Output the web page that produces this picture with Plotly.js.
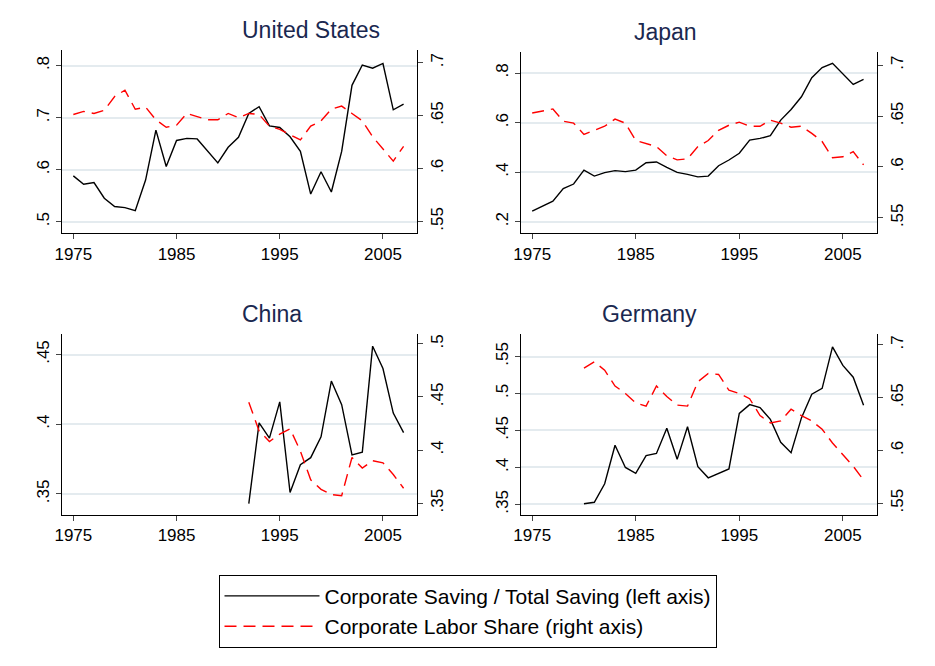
<!DOCTYPE html>
<html>
<head>
<meta charset="utf-8">
<script src="https://cdn.plot.ly/plotly-3.0.1.min.js"></script>
<style>body{margin:0;background:#fff}#chart{width:935px;height:666px}</style>
</head>
<body>
<div id="chart"></div>
<script>
// ── Data ─────────────────────────────────────
const yearsFull = [1975,1976,1977,1978,1979,1980,1981,1982,1983,1984,1985,1986,1987,1988,1989,1990,1991,1992,1993,1994,1995,1996,1997,1998,1999,2000,2001,2002,2003,2004,2005,2006,2007];
const yearsGermany = yearsFull.slice(5);
const yearsChina = yearsFull.slice(17);

const usSaving = [0.588,0.572,0.575,0.545,0.529,0.527,0.521,0.580,0.676,0.606,0.656,0.660,0.659,0.636,0.613,0.643,0.662,0.708,0.721,0.684,0.681,0.663,0.635,0.553,0.596,0.557,0.635,0.762,0.801,0.795,0.804,0.715,0.726];
const usLabor = [0.651,0.654,0.652,0.655,0.668,0.674,0.656,0.658,0.646,0.639,0.641,0.652,0.649,0.646,0.646,0.652,0.648,0.652,0.651,0.640,0.637,0.632,0.627,0.640,0.645,0.656,0.659,0.652,0.645,0.630,0.618,0.607,0.621];

const jpSaving = [0.243,0.264,0.283,0.334,0.352,0.408,0.384,0.398,0.406,0.402,0.408,0.438,0.441,0.419,0.399,0.391,0.381,0.384,0.426,0.449,0.476,0.529,0.536,0.547,0.610,0.653,0.704,0.781,0.822,0.839,0.796,0.754,0.774];
const jpLabor = [0.653,0.655,0.657,0.645,0.643,0.632,0.636,0.640,0.647,0.643,0.626,0.623,0.620,0.611,0.607,0.608,0.620,0.626,0.636,0.641,0.644,0.640,0.640,0.646,0.643,0.639,0.640,0.633,0.625,0.609,0.610,0.615,0.602];

const cnSaving = [0.343,0.401,0.390,0.416,0.351,0.371,0.376,0.391,0.431,0.414,0.378,0.380,0.456,0.440,0.408,0.394];
const cnLabor = [0.445,0.418,0.408,0.415,0.420,0.399,0.372,0.363,0.358,0.357,0.393,0.383,0.390,0.388,0.377,0.364];

const deSaving = [0.351,0.353,0.378,0.430,0.400,0.392,0.416,0.419,0.453,0.411,0.455,0.401,0.386,0.392,0.398,0.473,0.485,0.481,0.465,0.434,0.420,0.467,0.499,0.507,0.563,0.538,0.522,0.484];
const deLabor = [0.678,0.684,0.676,0.661,0.654,0.645,0.642,0.661,0.651,0.643,0.642,0.665,0.673,0.672,0.657,0.654,0.649,0.633,0.626,0.628,0.639,0.633,0.628,0.620,0.607,0.596,0.585,0.572];

const xTicks = [1975, 1985, 1995, 2005];
const savingName = "Corporate Saving / Total Saving (left axis)";
const laborName = "Corporate Labor Share (right axis)";

// ── Panels ────────────────────────────────────
const panels = [
  { title: "United States", x: yearsFull, s: usSaving, l: usLabor,
    dx: [0.0663, 0.446], dy: [0.650, 0.925],
    lr: [0.478, 0.830], lt: [0.5, 0.6, 0.7, 0.8], ltt: [".5", ".6", ".7", ".8"],
    rr: [0.539, 0.712], rt: [0.55, 0.6, 0.65, 0.7], rtt: [".55", ".6", ".65", ".7"] },
  { title: "Japan", x: yearsFull, s: jpSaving, l: jpLabor,
    dx: [0.557, 0.938], dy: [0.650, 0.922],
    lr: [0.154, 0.885], lt: [0.2, 0.4, 0.6, 0.8], ltt: [".2", ".4", ".6", ".8"],
    rr: [0.535, 0.713], rt: [0.55, 0.6, 0.65, 0.7], rtt: [".55", ".6", ".65", ".7"] },
  { title: "China", x: yearsChina, s: cnSaving, l: cnLabor,
    dx: [0.0663, 0.446], dy: [0.227, 0.498],
    lr: [0.335, 0.4645], lt: [0.35, 0.4, 0.45], ltt: [".35", ".4", ".45"],
    rr: [0.339, 0.509], rt: [0.35, 0.4, 0.45, 0.5], rtt: [".35", ".4", ".45", ".5"] },
  { title: "Germany", x: yearsGermany, s: deSaving, l: deLabor,
    dx: [0.557, 0.938], dy: [0.227, 0.498],
    lr: [0.336, 0.580], lt: [0.35, 0.4, 0.45, 0.5, 0.55], ltt: [".35", ".4", ".45", ".5", ".55"],
    rr: [0.539, 0.710], rt: [0.55, 0.6, 0.65, 0.7], rtt: [".55", ".6", ".65", ".7"] },
];

const tickFont = { family: "Arial, Liberation Sans, sans-serif", size: 17, color: "#000" };
const traces = [];
const layout = {
  width: 935, height: 666,
  margin: { t: 0, r: 0, b: 0, l: 0 },
  paper_bgcolor: "#fff", plot_bgcolor: "#fff",
  showlegend: true,
  legend: {
    x: 0.5, xanchor: "center", y: 0.137, yanchor: "top",
    bordercolor: "#000", borderwidth: 1,
    font: { family: "Arial, Liberation Sans, sans-serif", size: 21, color: "#000" },
    tracegroupgap: 0, itemwidth: 95,
  },
  annotations: [],
};

panels.forEach((p, i) => {
  const n = i * 2 + 1;
  const xa = "x" + (i + 1), ya = "y" + n, yb = "y" + (n + 1);
  traces.push({
    x: p.x, y: p.s, xaxis: xa, yaxis: ya, mode: "lines", name: savingName,
    line: { color: "#000", width: 1.4 }, showlegend: i === 0, legendgroup: "s",
  });
  traces.push({
    x: p.x, y: p.l, xaxis: xa, yaxis: yb, mode: "lines", name: laborName,
    line: { color: "#ff0000", width: 1.4, dash: "12px,7px" }, showlegend: i === 0, legendgroup: "l",
  });

  layout["xaxis" + (i + 1)] = {
    domain: p.dx, anchor: ya, range: [1973.9, 2008.3],
    tickvals: xTicks, ticks: "outside", ticklen: 5, showgrid: false,
    showline: true, linecolor: "#000", linewidth: 1, zeroline: false, tickfont: tickFont,
  };
  layout["yaxis" + n] = {
    domain: p.dy, anchor: xa, range: p.lr, tickvals: p.lt, ticktext: p.ltt,
    tickangle: -90, ticks: "outside", ticklen: 5, showgrid: true,
    gridcolor: "#e4ebef", gridwidth: 2, showline: true, linecolor: "#000",
    zeroline: false, tickfont: tickFont,
  };
  layout["yaxis" + (n + 1)] = {
    domain: p.dy, anchor: xa, overlaying: ya, side: "right", range: p.rr,
    tickvals: p.rt, ticktext: p.rtt, tickangle: -90, ticks: "outside", ticklen: 5,
    showgrid: false, showline: true, linecolor: "#000", zeroline: false, tickfont: tickFont,
  };

  layout.annotations.push({
    text: p.title, xref: "paper", yref: "paper",
    x: (p.dx[0] + p.dx[1]) / 2, y: p.dy[1] + 0.008, yanchor: "bottom",
    showarrow: false, font: { family: "Arial, Liberation Sans, sans-serif", size: 23, color: "#1a2850" },
  });
});

Plotly.newPlot("chart", traces, layout, { displayModeBar: false, staticPlot: true });
</script>
</body>
</html>
